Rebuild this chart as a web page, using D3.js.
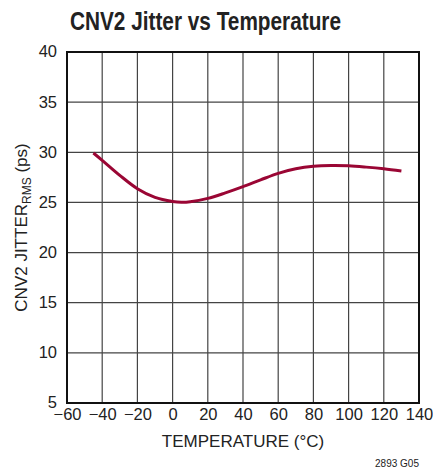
<!DOCTYPE html>
<html><head><meta charset="utf-8">
<script src="https://cdn.jsdelivr.net/npm/d3@7"></script>
<style>
body{margin:0;background:#fff;}
svg text{font-family:"Liberation Sans Narrow","Liberation Sans",Arial,sans-serif;fill:#222;}
</style></head>
<body><svg id="c" width="433" height="472"></svg>
<script>
const temps  = [-45, -40, -30, -20, -10, 0, 5, 10, 20, 30, 40, 50, 60, 70, 80, 90, 100, 110, 120, 130];
const jitter = [29.93, 29.2, 27.7, 26.37, 25.5, 25.1, 25.02, 25.07, 25.4, 25.95, 26.57, 27.25, 27.9, 28.35, 28.6, 28.68, 28.65, 28.52, 28.35, 28.13];
const xTicks = [-60, -40, -20, 0, 20, 40, 60, 80, 100, 120, 140];
const yTicks = [5, 10, 15, 20, 25, 30, 35, 40];

const svg = d3.select("#c");
const L = 67, R = 419, T = 52, B = 403;
const x = d3.scaleLinear().domain([-60, 140]).range([L, R]);
const y = d3.scaleLinear().domain([5, 40]).range([B, T]);

// grid
svg.append("g").selectAll("line").data(xTicks.slice(1, -1)).join("line")
  .attr("x1", d => x(d)).attr("x2", d => x(d)).attr("y1", T).attr("y2", B)
  .attr("stroke", "#444").attr("stroke-width", 1.2);
svg.append("g").selectAll("line").data(yTicks.slice(1, -1)).join("line")
  .attr("y1", d => y(d)).attr("y2", d => y(d)).attr("x1", L).attr("x2", R)
  .attr("stroke", "#444").attr("stroke-width", 1.2);

// frame
svg.append("rect").attr("x", L).attr("y", T).attr("width", R - L).attr("height", B - T)
  .attr("fill", "none").attr("stroke", "#111").attr("stroke-width", 2);

// axes labels via d3 axis
const xa = svg.append("g").attr("transform", `translate(0,${B})`)
  .call(d3.axisBottom(x).tickValues(xTicks).tickSize(0).tickPadding(5).tickFormat(d => d < 0 ? "\u2212" + Math.abs(d) : d));
const ya = svg.append("g").attr("transform", `translate(${L},0)`)
  .call(d3.axisLeft(y).tickValues(yTicks).tickSize(0).tickPadding(10));
[xa, ya].forEach(a => {
  a.select(".domain").remove();
  a.selectAll("text").attr("font-size", 16.5).attr("font-family", '"Liberation Sans",Arial,sans-serif').attr("fill", "#222");
});
ya.selectAll("text").attr("dy", "0.3em");

// curve
const line = d3.line().x((d, i) => x(temps[i])).y(d => y(d)).curve(d3.curveCatmullRom.alpha(0.5));
svg.append("path").datum(jitter).attr("d", line)
  .attr("fill", "none").attr("stroke", "#9a0634").attr("stroke-width", 3).attr("stroke-linecap", "butt");

// title
svg.append("text").attr("x", 70).attr("y", 30).attr("font-size", 26).attr("font-weight", "bold")
  .attr("textLength", 271).attr("lengthAdjust", "spacingAndGlyphs")
  .text("CNV2 Jitter vs Temperature");

// x title
svg.append("text").attr("x", (L + R) / 2 + 0).attr("y", 447).attr("text-anchor", "middle")
  .attr("font-size", 17).attr("font-family", '"Liberation Sans",Arial,sans-serif')
  .text("TEMPERATURE (°C)");

// y title
const yt = svg.append("text").attr("transform", `translate(27,${(T + B) / 2}) rotate(-90)`)
  .attr("text-anchor", "middle").attr("font-size", 17).attr("font-family", '"Liberation Sans",Arial,sans-serif');
yt.append("tspan").text("CNV2 JITTER");
yt.append("tspan").attr("font-size", 12).attr("dy", 4).text("RMS");
yt.append("tspan").attr("dy", -4).text(" (ps)");

// footnote
svg.append("text").attr("x", 419).attr("y", 467).attr("text-anchor", "end").attr("font-size", 10)
  .text("2893 G05");
</script></body></html>
